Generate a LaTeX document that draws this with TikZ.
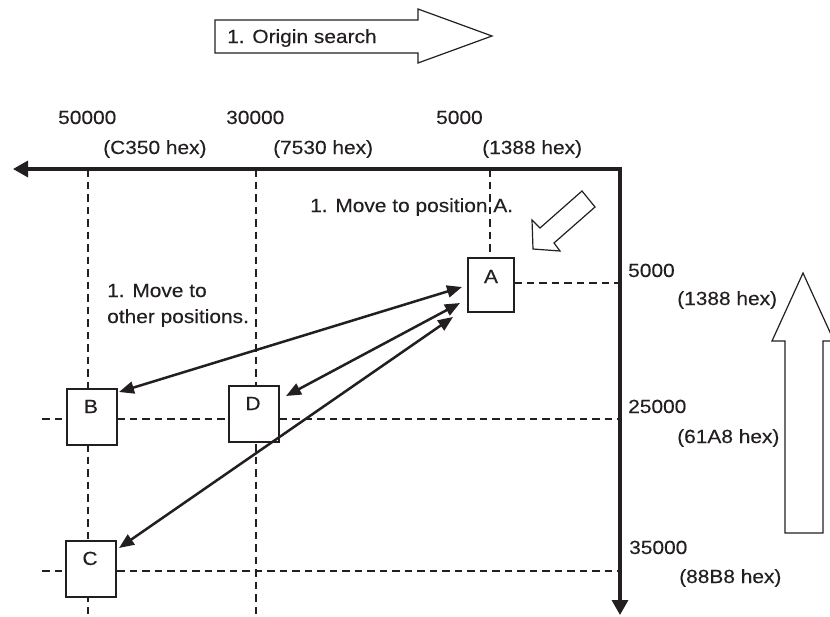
\documentclass[tikz,border=0pt]{standalone}
\usepackage{fontspec}
\setmainfont{Liberation Sans}[FakeStretch=1.1,FakeBold=0.25]
\usetikzlibrary{arrows.meta}
\definecolor{ink}{HTML}{231F20}
\begin{document}
\begin{tikzpicture}[x=1pt,y=-1pt,
  font=\fontsize{19}{22}\selectfont,
  lbl/.style={anchor=base west, inner sep=0pt, text=ink},
  letter/.style={anchor=base, inner sep=0pt, text=ink},
  posbox/.style={draw=ink, fill=white, line width=1.1pt, inner sep=0pt, minimum width=50pt, minimum height=56pt},
  gridline/.style={draw=ink, line width=2.7pt, dash pattern=on 7.5pt off 5pt},
  axisline/.style={draw=ink, line width=3.3pt, {Triangle[length=15pt,width=16pt]}-{Triangle[length=15pt,width=16pt]}},
  moveline/.style={draw=ink, line width=2.5pt, {Triangle[length=15pt,width=12pt]}-{Triangle[length=15pt,width=12pt]}},
  hollow/.style={draw=ink, fill=white, line width=1.2pt, line join=miter}]
\useasboundingbox (0,0) rectangle (830,616);
\clip (0,0) rectangle (830,616);

% axis coordinates
\coordinate (xtip) at (13,169);
\coordinate (org) at (620,169);
\coordinate (ytip) at (620,615);

% grid line end points
\coordinate (g50top) at (88,169);
\coordinate (g50bot) at (88,616);
\coordinate (g30top) at (256,169);
\coordinate (g30bot) at (256,616);
\coordinate (g5top) at (490,169);
\coordinate (g5bot) at (490,258);
\coordinate (h5l) at (514,283);
\coordinate (h5r) at (620,283);
\coordinate (h25l) at (42,419);
\coordinate (h25r) at (620,419);
\coordinate (h35l) at (42,571);
\coordinate (h35r) at (620,571);

\draw[gridline] (g50top) -- (g50bot);
\draw[gridline] (g30top) -- (g30bot);
\draw[gridline] (g5top) -- (g5bot);
\draw[gridline] (h5l) -- (h5r);
\draw[gridline] (h25l) -- (h25r);
\draw[gridline] (h35l) -- (h35r);

% position boxes
\node[posbox, minimum width=46pt, minimum height=54pt] (A) at (491,285) {};
\node[posbox] (B) at (92,417) {};
\node[posbox] (D) at (254,414) {};
\node[posbox] (C) at (91,569) {};

\node[letter] (Alab) at (491,283) {A};
\node[letter] (Blab) at (91,413) {B};
\node[letter] (Dlab) at (253,410) {D};
\node[letter] (Clab) at (90,565) {C};

% axes
\draw[axisline] (xtip) -- (org) -- (ytip);

% movement arrows
\coordinate (aB) at (462,287);
\coordinate (bA) at (119,392);
\coordinate (aD) at (460,303);
\coordinate (dA) at (286,396);
\coordinate (aC) at (453,317);
\coordinate (cA) at (119,548);
\draw[moveline] (bA) -- (aB);
\draw[moveline] (dA) -- (aD);
\draw[moveline] (cA) -- (aC);

% hollow arrows
\draw[hollow] (215,20) -- (418,20) -- (418,9) -- (492,36) -- (418,63) -- (418,53) -- (215,53) -- cycle;
\node[lbl] (origin) at (227,43) {1. Origin search};

\draw[hollow] (533,249) -- (532,220) -- (540,228) -- (582,191) -- (595,207) -- (554,243) -- (560,251) -- cycle;

\draw[hollow] (785,533) -- (785,341) -- (772,341) -- (803,273) -- (834,341) -- (823,341) -- (823,533) -- cycle;

% top labels
\node[lbl] (t50) at (58,124) {50000};
\node[lbl] (t30) at (226,124) {30000};
\node[lbl] (t5) at (436,124) {5000};
\node[lbl] (h50) at (103,154) {(C350 hex)};
\node[lbl] (h30) at (273,154) {(7530 hex)};
\node[lbl] (h5) at (482,154) {(1388 hex)};

% right labels
\node[lbl] (r5) at (628,277) {5000};
\node[lbl] (rh5) at (677,305) {(1388 hex)};
\node[lbl] (r25) at (628,413) {25000};
\node[lbl] (rh25) at (677,443) {(61A8 hex)};
\node[lbl] (r35) at (629,554) {35000};
\node[lbl] (rh35) at (679,583) {(88B8 hex)};

% notes
\node[lbl] (moveA) at (310,212) {1. Move to position A.};
\node[lbl] (moveO1) at (107,297) {1. Move to};
\node[lbl] (moveO2) at (107,323) {other positions.};
\end{tikzpicture}
\end{document}
